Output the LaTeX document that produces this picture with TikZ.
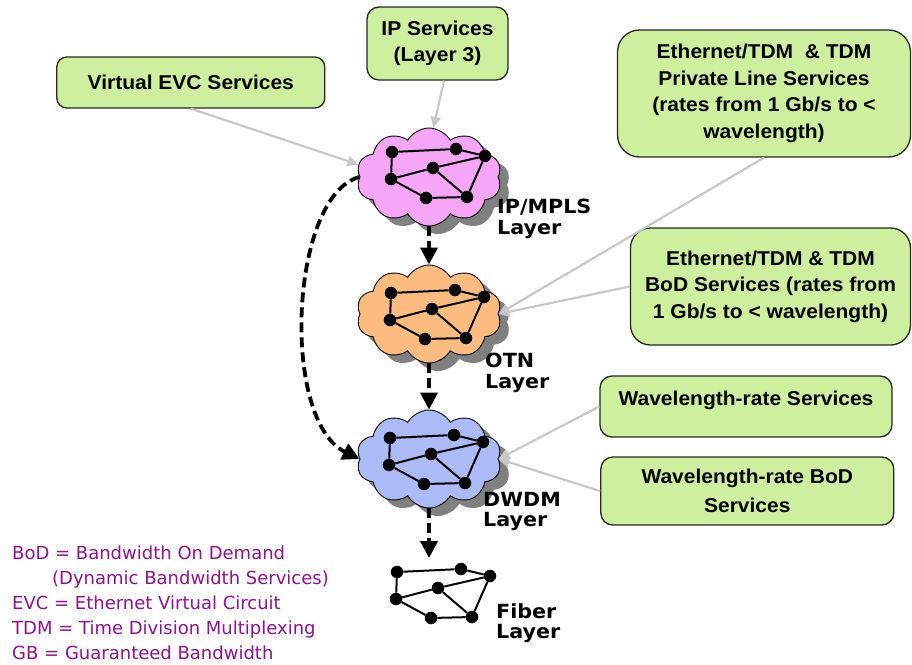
\documentclass[tikz,border=0pt]{standalone}
\usepackage{fontspec}
\setmainfont{Liberation Sans}
\newfontfamily\boxfont{Liberation Sans}[FakeStretch=1.05]
\newfontfamily\verdfont{DejaVu Sans}
\newfontfamily\verdwide{DejaVu Sans}[FakeStretch=1.06]
\usetikzlibrary{shapes.symbols,shadows,arrows.meta}

\definecolor{boxgreen}{RGB}{206,240,158}
\definecolor{cloudpink}{RGB}{246,166,246}
\definecolor{cloudorange}{RGB}{252,188,128}
\definecolor{cloudblue}{RGB}{172,186,246}
\definecolor{legendpurple}{RGB}{140,20,140}
\definecolor{linkgrey}{RGB}{200,200,200}
\definecolor{shadowgrey}{RGB}{128,128,128}

\tikzset{
  svcbox/.style={draw=black!85, line width=1.3pt, fill=boxgreen,
    rounded corners=12pt, align=center, inner sep=0pt,
    font={\boxfont\bfseries\fontsize{20}{26.5}\selectfont}},
  netcloud/.style={cloud, cloud puffs=10, cloud puff arc=120,
    cloud ignores aspect, minimum width=145pt, minimum height=98pt,
    draw=black, line width=0.9pt,
    drop shadow={shadow xshift=9pt, shadow yshift=-8pt,
      fill=shadowgrey, opacity=1}},
  netdot/.style={circle, fill=black, inner sep=0pt, minimum size=12.5pt},
  mesh/.style={line width=2pt},
  layerdash/.style={line width=3.8pt, dash pattern=on 10pt off 5pt,
    -{Triangle[length=17pt,width=17pt]}},
  feed/.style={draw=linkgrey, line width=2.2pt,
    -{Triangle[length=11pt,width=10pt]}},
  layerlabel/.style={anchor=north west, align=left, inner sep=0pt,
    font={\verdwide\bfseries\fontsize{19.5}{20.5}\selectfont}},
}

% seven-node mesh placed with its first node at (#2,#3)
\newcommand\meshnet[3]{%
  \begin{scope}[shift={(#2,#3)}]
    \node[netdot] (#1-1) at (0,0) {};
    \node[netdot] (#1-2) at (64,-3) {};
    \node[netdot] (#1-3) at (93,4) {};
    \node[netdot] (#1-4) at (41,16) {};
    \node[netdot] (#1-5) at (-1,27) {};
    \node[netdot] (#1-6) at (34,46) {};
    \node[netdot] (#1-7) at (75,45) {};
  \end{scope}
  \draw[mesh] (#1-1) -- (#1-2) -- (#1-3) -- (#1-7) -- (#1-6) -- (#1-5) -- (#1-1);
  \draw[mesh] (#1-5) -- (#1-4) -- (#1-3);
  \draw[mesh] (#1-4) -- (#1-7);
}

\begin{document}
\begin{tikzpicture}[x=1pt, y=-1pt]
\useasboundingbox (0,0) rectangle (912,664);

% service boxes
\node[svcbox, rounded corners=10pt, minimum width=268pt, minimum height=51pt]
  (evc) at (190.8,82.5) {Virtual EVC Services};
\node[svcbox, minimum width=141pt, minimum height=73pt]
  (ipsvc) at (437.5,43.5) {IP Services\\(Layer 3)};
\node[svcbox, rounded corners=22pt, minimum width=293pt, minimum height=127pt]
  (epl) at (764,93.5) {Ethernet/TDM\ \ \& TDM\\Private Line Services\\(rates from 1 Gb/s to <\\wavelength)};
\node[svcbox, rounded corners=20pt, minimum width=280pt, minimum height=117pt]
  (eb) at (770.5,286.5) {Ethernet/TDM \& TDM\\BoD Services (rates from\\1 Gb/s to < wavelength)};
\node[svcbox, minimum width=292pt, minimum height=61pt, text depth=16.6pt]
  (wrs) at (746,406.5) {Wavelength-rate Services};
\node[svcbox, minimum width=293pt, minimum height=68pt,
  font={\boxfont\bfseries\fontsize{20}{28.5}\selectfont}]
  (wrb) at (747.3,491) {Wavelength-rate BoD\\Services};

% network layers
\node[netcloud, fill=cloudpink] (ip) at (429,177) {};
\node[netcloud, fill=cloudorange] (otn) at (429,314) {};
\node[netcloud, fill=cloudblue] (dwdm) at (429,459) {};
\meshnet{ipn}{392}{152}
\meshnet{otnn}{391}{293}
\meshnet{dwn}{390}{438}
\meshnet{fbn}{397}{572}

\node[layerlabel] (iplbl) at (497,199) {IP/MPLS\\Layer};
\node[layerlabel] (otnlbl) at (485,353) {OTN\\Layer};
\node[layerlabel] (dwlbl) at (483,492) {DWDM\\Layer};
\node[layerlabel] (fblbl) at (496,603) {Fiber\\Layer};

% layer-to-layer mapping
\coordinate (fibertop) at (429,558);
\draw[layerdash] (ip.south) -- (otn.north);
\draw[layerdash] (otn.south) -- (dwdm.north);
\draw[layerdash] (dwdm.south) -- (fibertop);
\draw[layerdash] (ip.west) .. controls (290,195) and (280,420) .. (dwdm.west);

% services entering the layers
\draw[feed] (evc.south) -- (ip.170);
\draw[feed] (ipsvc.-80) -- (ip.85);
\draw[feed] (epl.south) -- (otn.east);
\draw[feed] (eb.west) -- (otn.east);
\draw[feed] (wrs.west) -- (dwdm.east);
\draw[feed] (wrb.west) -- (dwdm.east);

% abbreviations
\node[anchor=north west, align=left, inner sep=0pt, text=legendpurple,
  font={\verdfont\fontsize{18}{25}\selectfont}] (legend) at (12,545.5)
  {BoD = Bandwidth On Demand\\
   \hspace*{40pt}(Dynamic Bandwidth Services)\\
   EVC = Ethernet Virtual Circuit\\
   TDM = Time Division Multiplexing\\
   GB = Guaranteed Bandwidth};
\end{tikzpicture}
\end{document}
